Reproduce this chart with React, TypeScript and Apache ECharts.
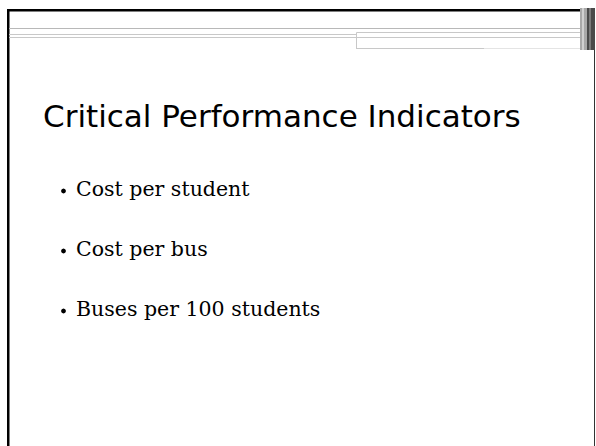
import React, { useEffect, useRef } from "react";
import * as echarts from "echarts";

const titleText = "Critical Performance Indicators";
const bulletItems = ["Cost per student", "Cost per bus", "Buses per 100 students"];

export default function App() {
  const ref = useRef<HTMLDivElement>(null);
  useEffect(() => {
    if (!ref.current) return;
    const chart = echarts.init(ref.current, null, { renderer: "svg" });
    const elements: any[] = [
      { type: "rect", shape: { x: 0, y: 0, width: 596, height: 446 }, style: { fill: "#ffffff" }, silent: true },
      // top thick black line
      { type: "rect", shape: { x: 7, y: 9, width: 574, height: 2.5 }, style: { fill: "#000000" } },
      // left thick black line
      { type: "rect", shape: { x: 7, y: 9, width: 2.5, height: 437 }, style: { fill: "#000000" } },
      // right thin line
      { type: "line", shape: { x1: 594.5, y1: 49, x2: 594.5, y2: 446 }, style: { stroke: "#333333", lineWidth: 1 } },
      // gray rules
      { type: "line", shape: { x1: 9, y1: 28.5, x2: 581, y2: 28.5 }, style: { stroke: "#b8b8b8", lineWidth: 1 } },
      { type: "line", shape: { x1: 9, y1: 34.5, x2: 356, y2: 34.5 }, style: { stroke: "#c8c8c8", lineWidth: 1 } },
      { type: "line", shape: { x1: 9, y1: 37.5, x2: 581, y2: 37.5 }, style: { stroke: "#c8c8c8", lineWidth: 1 } },
      { type: "line", shape: { x1: 356.5, y1: 32.5, x2: 581, y2: 32.5 }, style: { stroke: "#c8c8c8", lineWidth: 1 } },
      { type: "line", shape: { x1: 356.5, y1: 32.5, x2: 356.5, y2: 49 }, style: { stroke: "#c8c8c8", lineWidth: 1 } },
      { type: "line", shape: { x1: 356.5, y1: 48.5, x2: 484, y2: 48.5 }, style: { stroke: "#c8c8c8", lineWidth: 1 } },
      { type: "line", shape: { x1: 484, y1: 48.5, x2: 581, y2: 48.5 }, style: { stroke: "#e4e4e4", lineWidth: 1 } },
      // textured block at top right
      { type: "rect", shape: { x: 580, y: 8, width: 7, height: 42 }, style: { fill: "#a8a8a8" } },
      { type: "rect", shape: { x: 587, y: 8, width: 8, height: 42 }, style: { fill: "#4a4a4a" } },
      { type: "rect", shape: { x: 582, y: 8, width: 2, height: 42 }, style: { fill: "#d0d0d0" } },
      { type: "rect", shape: { x: 589, y: 8, width: 2, height: 42 }, style: { fill: "#7a7a7a" } },
      // title
      {
        type: "text",
        x: 43,
        y: 100,
        style: {
          text: titleText,
          font: "31px 'DejaVu Sans', sans-serif",
          fill: "#000000",
          verticalAlign: "top",
          align: "left",
        },
      },
    ];
    bulletItems.forEach((t, i) => {
      const base = 197 + i * 60;
      elements.push({ type: "circle", shape: { cx: 63.5, cy: base - 6, r: 2.4 }, style: { fill: "#000000" } });
      elements.push({
        type: "text",
        x: 76,
        y: base - 18.5,
        style: {
          text: t,
          font: "20.5px 'DejaVu Serif', serif",
          fill: "#000000",
          verticalAlign: "top",
          align: "left",
        },
      });
    });
    chart.setOption({ animation: false, graphic: { elements } });
    return () => chart.dispose();
  }, []);
  return (
    <div
      ref={ref}
      style={{ position: "absolute", left: 0, top: 0, width: 596, height: 446, background: "#fff" }}
    />
  );
}
